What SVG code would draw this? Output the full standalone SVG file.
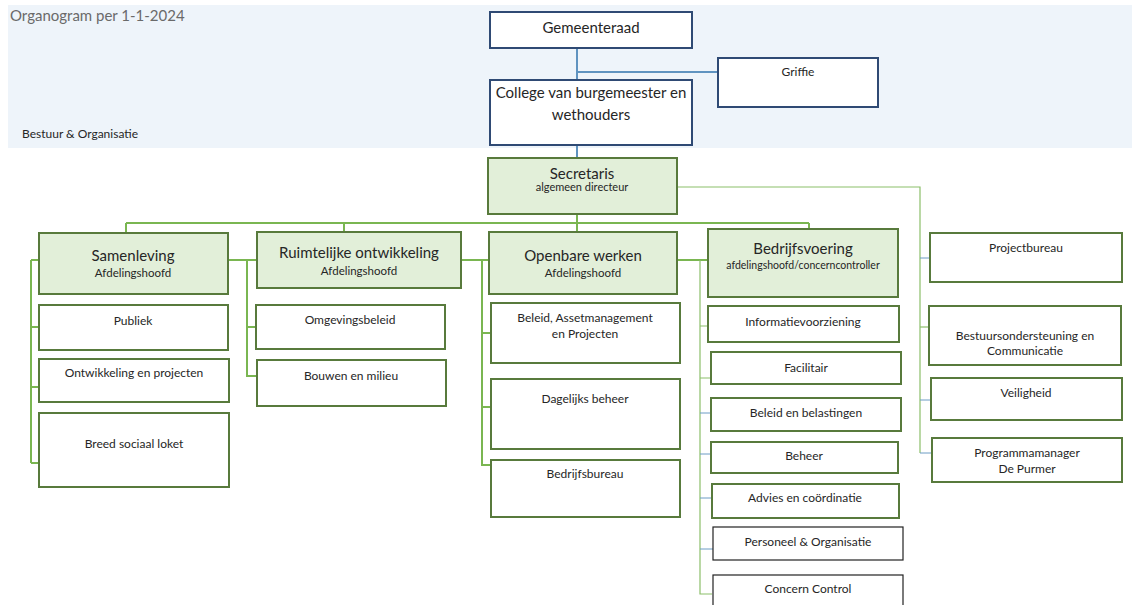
<svg xmlns="http://www.w3.org/2000/svg" width="1132" height="605" viewBox="0 0 1132 605">
<style>
text{font-family:Lato,"Liberation Sans",sans-serif;fill:#262626;text-anchor:middle}
.top{fill:#ffffff;stroke:#2f4a74;stroke-width:2}
.dept{fill:#e2efd9;stroke:#587a3c;stroke-width:2}
.unit{fill:#ffffff;stroke:#587a3c;stroke-width:2}
.plain{fill:#ffffff;stroke:#222222;stroke-width:1.2}
.big{font-size:15px}
.mid{font-size:12px}
.sub{font-size:11.5px}
.small{font-size:10.5px}
.g{fill:none;stroke:#7ab651;stroke-width:2}
.gt{fill:none;stroke:#8cbf6a;stroke-width:1.2}
.b{fill:none;stroke:#5f93c0;stroke-width:2}
.bt{fill:none;stroke:#6c9cc4;stroke-width:1}
</style>
<rect x="8" y="5" width="1124" height="143" fill="#eef4fa"/>
<text x="10" y="21" style="font-size:15px;fill:#6a6a6a;text-anchor:start">Organogram per 1-1-2024</text>
<text x="22" y="138" style="font-size:12px;text-anchor:start">Bestuur &amp; Organisatie</text>
<g id="connectors">
<path class="b" d="M577 48V80M577 72H718M577 145V158"/>
<path class="g" d="M577 214V223M126 223H809M126 223V233M344 223V232M577 223V232M809 223V229"/>
<path class="gt" d="M677 187H920V453"/>
<path class="bt" d="M920 258H930M920 400H931M920 453H932"/>
<path class="gt" d="M920 327H929"/>
<path class="g" d="M31 260H39M31 260V463M31 327H39M31 387H39M31 463H39"/>
<path class="g" d="M228 260H257M247 260V376H257M247 327H256"/>
<path class="g" d="M461 260H489M482 260V465H491M482 333H491M482 407H491"/>
<path class="g" d="M677 260H708"/>
<path class="gt" d="M700 260V594H712M700 326H708M700 378H711"/>
<path class="bt" d="M700 413H711M700 454H715M700 498H712M700 549H713"/>
</g>
<g id="gemeenteraad"><rect class="top" x="490" y="12" width="202" height="36"/><text class="big" x="591" y="33">Gemeenteraad</text></g>
<g id="griffie"><rect class="top" x="718" y="58" width="160" height="49"/><text class="mid" x="798" y="76">Griffie</text></g>
<g id="college"><rect class="top" x="490" y="80" width="202" height="65"/><text class="big" x="591" y="98">College van burgemeester en</text><text class="big" x="591" y="120">wethouders</text></g>
<g id="secretaris"><rect class="dept" x="488" y="158" width="189" height="56"/><text class="big" x="582" y="179">Secretaris</text><text class="small" x="582" y="191" style="font-size:11px">algemeen directeur</text></g>
<g id="samenleving"><rect class="dept" x="39" y="233" width="189" height="61"/><text class="big" x="133" y="261">Samenleving</text><text class="sub" x="133" y="277">Afdelingshoofd</text></g>
<g id="ruimtelijke"><rect class="dept" x="257" y="232" width="204" height="56"/><text class="big" x="359" y="258">Ruimtelijke ontwikkeling</text><text class="sub" x="359" y="275">Afdelingshoofd</text></g>
<g id="openbare"><rect class="dept" x="489" y="232" width="188" height="62"/><text class="big" x="583" y="261">Openbare werken</text><text class="sub" x="583" y="277">Afdelingshoofd</text></g>
<g id="bedrijfsvoering"><rect class="dept" x="708" y="229" width="190" height="68"/><text class="big" x="803" y="254">Bedrijfsvoering</text><text class="small" x="803" y="269">afdelingshoofd/concerncontroller</text></g>
<g id="publiek"><rect class="unit" x="39" y="305" width="189" height="45"/><text class="mid" x="133" y="325">Publiek</text></g>
<g id="ontwikkeling"><rect class="unit" x="39" y="359" width="190" height="43"/><text class="mid" x="134" y="377">Ontwikkeling en projecten</text></g>
<g id="breed"><rect class="unit" x="39" y="413" width="190" height="74"/><text class="mid" x="134" y="448">Breed sociaal loket</text></g>
<g id="omgevingsbeleid"><rect class="unit" x="256" y="305" width="189" height="44"/><text class="mid" x="350" y="324">Omgevingsbeleid</text></g>
<g id="bouwen"><rect class="unit" x="257" y="360" width="189" height="46"/><text class="mid" x="351" y="380">Bouwen en milieu</text></g>
<g id="beleid-asset"><rect class="unit" x="491" y="303" width="189" height="60"/><text class="mid" x="585" y="322">Beleid, Assetmanagement</text><text class="mid" x="585" y="338">en Projecten</text></g>
<g id="dagelijks"><rect class="unit" x="491" y="379" width="189" height="70"/><text class="mid" x="585" y="403">Dagelijks beheer</text></g>
<g id="bedrijfsbureau"><rect class="unit" x="491" y="460" width="189" height="57"/><text class="mid" x="585" y="478">Bedrijfsbureau</text></g>
<g id="informatievoorziening"><rect class="unit" x="708" y="306" width="191" height="36"/><text class="mid" x="803" y="326">Informatievoorziening</text></g>
<g id="facilitair"><rect class="unit" x="711" y="352" width="190" height="32"/><text class="mid" x="806" y="372">Facilitair</text></g>
<g id="beleid-belastingen"><rect class="unit" x="711" y="398" width="190" height="33"/><text class="mid" x="806" y="417">Beleid en belastingen</text></g>
<g id="beheer"><rect class="unit" x="711" y="442" width="187" height="31"/><text class="mid" x="804" y="460">Beheer</text></g>
<g id="advies"><rect class="unit" x="712" y="484" width="187" height="34"/><text class="mid" x="805" y="502">Advies en coördinatie</text></g>
<g id="personeel"><rect class="plain" x="713" y="527" width="190" height="33"/><text class="mid" x="808" y="546">Personeel &amp; Organisatie</text></g>
<g id="concern"><rect class="plain" x="713" y="575" width="190" height="40"/><text class="mid" x="808" y="593">Concern Control</text></g>
<g id="projectbureau"><rect class="unit" x="930" y="233" width="192" height="49"/><text class="mid" x="1026" y="252">Projectbureau</text></g>
<g id="bestuursondersteuning"><rect class="unit" x="929" y="306" width="192" height="59"/><text class="mid" x="1025" y="340">Bestuursondersteuning en</text><text class="mid" x="1025" y="355">Communicatie</text></g>
<g id="veiligheid"><rect class="unit" x="931" y="378" width="191" height="42"/><text class="mid" x="1026" y="397">Veiligheid</text></g>
<g id="programmamanager"><rect class="unit" x="932" y="438" width="190" height="44"/><text class="mid" x="1027" y="457">Programmamanager</text><text class="mid" x="1027" y="473">De Purmer</text></g>
</svg>
